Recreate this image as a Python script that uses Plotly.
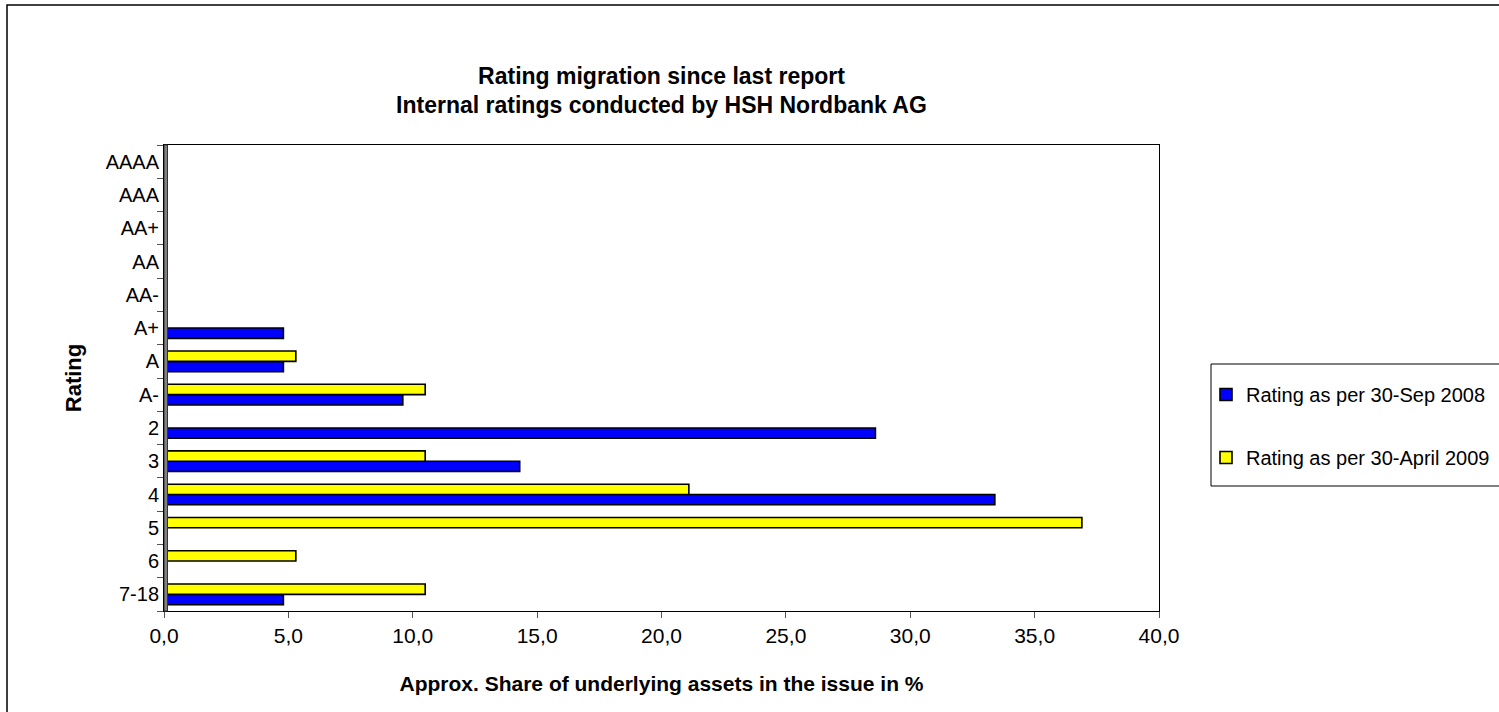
import plotly.graph_objects as go

# Rating classes, listed from the bottom of the axis to the top
ratings = ["7-18", "6", "5", "4", "3", "2", "A-", "A", "A+", "AA-", "AA", "AA+", "AAA", "AAAA"]

# Approx. share of underlying assets (%) per rating class
share_sep_2008 = [4.8, 0.0, 0.0, 33.4, 14.3, 28.6, 9.6, 4.8, 4.8, 0.0, 0.0, 0.0, 0.0, 0.0]
share_apr_2009 = [10.5, 5.3, 36.9, 21.1, 10.5, 0.0, 10.5, 5.3, 0.0, 0.0, 0.0, 0.0, 0.0, 0.0]

series_names = ["Rating as per 30-Sep 2008", "Rating as per 30-April 2009"]
x_ticks = [0, 5, 10, 15, 20, 25, 30, 35, 40]

FONT = "Liberation Sans, Arial, sans-serif"
W, H = 1499, 712
L, R, T, B = 164, 1159, 145, 611  # plot area edges in pixels


def px(xp):
    return (xp - L) / (R - L)


def py(yp):
    return (B - yp) / (B - T)


fig = go.Figure()
fig.add_trace(go.Bar(
    y=ratings, x=share_sep_2008, orientation="h", name=series_names[0],
    legendgroup="a",
    marker=dict(color="#0000FF", line=dict(color="black", width=1.6)),
))
fig.add_trace(go.Bar(
    y=ratings, x=share_apr_2009, orientation="h", name=series_names[1],
    legendgroup="b",
    marker=dict(color="#FFFF00", line=dict(color="black", width=1.6)),
))

shapes = [
    # outer chart frame
    dict(type="rect", xref="paper", yref="paper",
         x0=px(7), x1=px(1530), y0=py(740), y1=py(5),
         line=dict(color="black", width=1.5), fillcolor="rgba(0,0,0,0)", layer="below"),
    # legend frame
    dict(type="rect", xref="paper", yref="paper",
         x0=px(1211), x1=px(1540), y0=py(486), y1=py(364),
         line=dict(color="black", width=1), fillcolor="rgba(0,0,0,0)"),
    # grey side wall at the value axis origin
    dict(type="rect", xref="x", yref="paper", xsizemode="pixel", xanchor=0,
         x0=0, x1=3.5, y0=0, y1=1,
         line=dict(color="#333333", width=1), fillcolor="#808080", layer="above"),
]

fig.update_layout(
    width=W, height=H,
    margin=dict(l=L, r=W - R, t=T, b=H - B, pad=0, autoexpand=False),
    paper_bgcolor="white", plot_bgcolor="white",
    font=dict(family=FONT, size=21, color="black"),
    separators=",.",
    barmode="group", bargap=0.38, bargroupgap=0.0,
    title=dict(
        text="<b>Rating migration since last report<br>Internal ratings conducted by HSH Nordbank AG</b>",
        xref="paper", x=0.5, xanchor="center", y=1 - 83.5 / H, yanchor="middle",
        font=dict(family=FONT, size=23, color="black"),
    ),
    xaxis=dict(
        range=[0, 40], tickvals=x_ticks, tickformat=".1f",
        showgrid=False, zeroline=False,
        showline=True, linecolor="black", linewidth=1, mirror=True,
        ticks="outside", ticklen=6, tickcolor="#555555",
        tickfont=dict(size=21),
        title=dict(text="<b>Approx. Share of underlying assets in the issue in %</b>",
                   font=dict(family=FONT, size=21), standoff=30),
    ),
    yaxis=dict(
        type="category", categoryorder="array", categoryarray=ratings,
        showgrid=False, zeroline=False,
        showline=True, linecolor="black", linewidth=1, mirror=True,
        ticks="outside", ticklen=6, tickcolor="#555555", tickson="boundaries",
        tickfont=dict(size=20),
        title=dict(text="<b>Rating</b>", font=dict(family=FONT, size=22), standoff=17),
    ),
    legend=dict(
        x=px(1206), y=py(375), xanchor="left", yanchor="top",
        bgcolor="rgba(0,0,0,0)", borderwidth=0,
        font=dict(family=FONT, size=20), tracegroupgap=34,
        traceorder="grouped",
    ),
    shapes=shapes,
)

fig.write_html("out.html")
